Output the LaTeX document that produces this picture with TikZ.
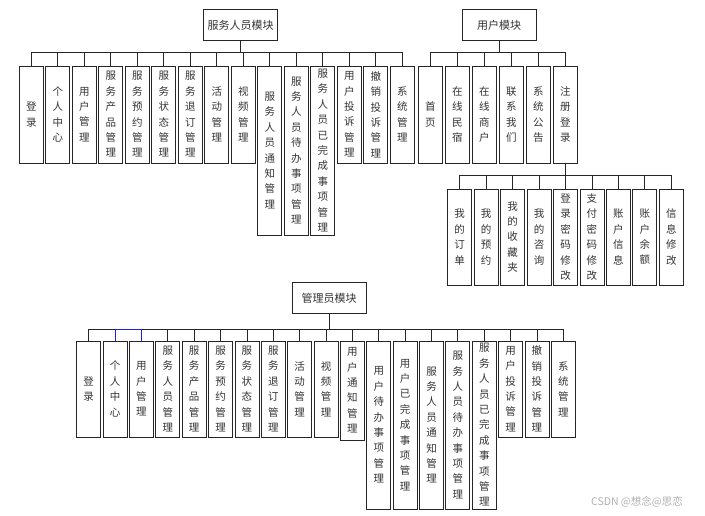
\documentclass[tikz,border=0pt]{standalone}
\usepackage{fontspec}
\setmainfont{Noto Sans CJK SC}
\usepackage{xcolor}
\usepackage{tikz}
\usetikzlibrary{positioning}
\definecolor{boxline}{HTML}{262626}
\definecolor{textgray}{HTML}{333333}
\definecolor{markgray}{HTML}{B0B0B0}
\definecolor{bluelink}{HTML}{2020E0}
\tikzset{
  box/.style  = {draw=boxline, line width=0.8pt, fill=white, text=textgray,
                 align=center, inner sep=0pt, outer sep=0pt},
  head/.style = {box, font=\fontsize{11}{13}\selectfont,
                 minimum width=74pt, minimum height=31pt},
  leaf/.style = {box, font=\fontsize{10.5}{15.4}\selectfont,
                 minimum width=24pt, minimum height=97pt},
  tall/.style = {leaf, minimum height=169pt},
  link/.style = {draw=boxline, line width=0.8pt},
}

\begin{document}
\begin{tikzpicture}[x=1pt,y=-1pt]
    \useasboundingbox (0,0) rectangle (705,516);
    % service staff module
    \node[head] (s0) at (240.5,25) {服务人员模块};
    \node[leaf, anchor=north west] (s1) at (19.3,66) {登\\录};
    \node[leaf, below right=0pt and 2.5pt of s1.north east] (s2) {个\\人\\中\\心};
    \node[leaf, below right=0pt and 2.5pt of s2.north east] (s3) {用\\户\\管\\理};
    \node[leaf, below right=0pt and 2.5pt of s3.north east] (s4) {服\\务\\产\\品\\管\\理};
    \node[leaf, below right=0pt and 2.5pt of s4.north east] (s5) {服\\务\\预\\约\\管\\理};
    \node[leaf, below right=0pt and 2.5pt of s5.north east] (s6) {服\\务\\状\\态\\管\\理};
    \node[leaf, below right=0pt and 2.5pt of s6.north east] (s7) {服\\务\\退\\订\\管\\理};
    \node[leaf, below right=0pt and 2.5pt of s7.north east] (s8) {活\\动\\管\\理};
    \node[leaf, below right=0pt and 2.5pt of s8.north east] (s9) {视\\频\\管\\理};
    \node[tall, below right=0pt and 2.5pt of s9.north east] (s10) {服\\务\\人\\员\\通\\知\\管\\理};
    \node[tall, below right=0pt and 2.5pt of s10.north east] (s11) {服\\务\\人\\员\\待\\办\\事\\项\\管\\理};
    \node[tall, below right=0pt and 2.5pt of s11.north east] (s12) {服\\务\\人\\员\\已\\完\\成\\事\\项\\管\\理};
    \node[leaf, below right=0pt and 2.5pt of s12.north east] (s13) {用\\户\\投\\诉\\管\\理};
    \node[leaf, below right=0pt and 2.5pt of s13.north east] (s14) {撤\\销\\投\\诉\\管\\理};
    \node[leaf, below right=0pt and 2.5pt of s14.north east] (s15) {系\\统\\管\\理};
    % user module
    \node[head] (u0) at (499,25) {用户模块};
    \node[leaf, anchor=north west] (u1) at (418.3,66) {首\\页};
    \node[leaf, below right=0pt and 3pt of u1.north east] (u2) {在\\线\\民\\宿};
    \node[leaf, below right=0pt and 3pt of u2.north east] (u3) {在\\线\\商\\户};
    \node[leaf, below right=0pt and 3pt of u3.north east] (u4) {联\\系\\我\\们};
    \node[leaf, below right=0pt and 3pt of u4.north east] (u5) {系\\统\\公\\告};
    \node[leaf, below right=0pt and 3pt of u5.north east] (u6) {注\\册\\登\\录};
    % under register / login
    \node[leaf, anchor=north west, minimum height=96pt] (r1) at (447.7,189) {我\\的\\订\\单};
    \node[leaf, minimum height=96pt, below right=0pt and 2.45pt of r1.north east] (r2) {我\\的\\预\\约};
    \node[leaf, minimum height=96pt, below right=0pt and 2.45pt of r2.north east] (r3) {我\\的\\收\\藏\\夹};
    \node[leaf, minimum height=96pt, below right=0pt and 2.45pt of r3.north east] (r4) {我\\的\\咨\\询};
    \node[leaf, minimum height=96pt, below right=0pt and 2.45pt of r4.north east] (r5) {登\\录\\密\\码\\修\\改};
    \node[leaf, minimum height=96pt, below right=0pt and 2.45pt of r5.north east] (r6) {支\\付\\密\\码\\修\\改};
    \node[leaf, minimum height=96pt, below right=0pt and 2.45pt of r6.north east] (r7) {账\\户\\信\\息};
    \node[leaf, minimum height=96pt, below right=0pt and 2.45pt of r7.north east] (r8) {账\\户\\余\\额};
    \node[leaf, minimum height=96pt, below right=0pt and 2.45pt of r8.north east] (r9) {信\\息\\修\\改};
    % admin module
    \node[head] (a0) at (329,298.3) {管理员模块};
    \node[leaf, anchor=north west, minimum height=96pt] (a1) at (76.7,341) {登\\录};
    \node[leaf, minimum height=96pt, below right=0pt and 2.37pt of a1.north east] (a2) {个\\人\\中\\心};
    \node[leaf, minimum height=96pt, below right=0pt and 2.37pt of a2.north east] (a3) {用\\户\\管\\理};
    \node[leaf, minimum height=96pt, below right=0pt and 2.37pt of a3.north east] (a4) {服\\务\\人\\员\\管\\理};
    \node[leaf, minimum height=96pt, below right=0pt and 2.37pt of a4.north east] (a5) {服\\务\\产\\品\\管\\理};
    \node[leaf, minimum height=96pt, below right=0pt and 2.37pt of a5.north east] (a6) {服\\务\\预\\约\\管\\理};
    \node[leaf, minimum height=96pt, below right=0pt and 2.37pt of a6.north east] (a7) {服\\务\\状\\态\\管\\理};
    \node[leaf, minimum height=96pt, below right=0pt and 2.37pt of a7.north east] (a8) {服\\务\\退\\订\\管\\理};
    \node[leaf, minimum height=96pt, below right=0pt and 2.37pt of a8.north east] (a9) {活\\动\\管\\理};
    \node[leaf, minimum height=96pt, below right=0pt and 2.37pt of a9.north east] (a10) {视\\频\\管\\理};
    \node[leaf, minimum height=99pt, below right=0pt and 2.37pt of a10.north east] (a11) {用\\户\\通\\知\\管\\理};
    \node[tall, minimum height=168pt, below right=0pt and 2.37pt of a11.north east] (a12) {用\\户\\待\\办\\事\\项\\管\\理};
    \node[tall, minimum height=168pt, below right=0pt and 2.37pt of a12.north east] (a13) {用\\户\\已\\完\\成\\事\\项\\管\\理};
    \node[tall, minimum height=168pt, below right=0pt and 2.37pt of a13.north east] (a14) {服\\务\\人\\员\\通\\知\\管\\理};
    \node[tall, minimum height=168pt, below right=0pt and 2.37pt of a14.north east] (a15) {服\\务\\人\\员\\待\\办\\事\\项\\管\\理};
    \node[tall, minimum height=168pt, below right=0pt and 2.37pt of a15.north east] (a16) {服\\务\\人\\员\\已\\完\\成\\事\\项\\管\\理};
    \node[leaf, minimum height=96pt, below right=0pt and 2.37pt of a16.north east] (a17) {用\\户\\投\\诉\\管\\理};
    \node[leaf, minimum height=96pt, below right=0pt and 2.37pt of a17.north east] (a18) {撤\\销\\投\\诉\\管\\理};
    \node[leaf, minimum height=96pt, below right=0pt and 2.37pt of a18.north east] (a19) {系\\统\\管\\理};

    \foreach \c in {s1,s2,s3,s4,s5,s6,s7,s8,s9,s10,s11,s12,s13,s14,s15}
      \draw[link] (s0.south) -- ++(0,12) -| (\c.north);
    \foreach \c in {u1,u2,u3,u4,u5,u6}
      \draw[link] (u0.south) -- ++(0,12.3) -| (\c.north);
    \foreach \c in {r1,r2,r3,r4,r5,r6,r7,r8,r9}
      \draw[link] (u6.south) -- ++(0,12) -| (\c.north);
    \foreach \c in {a1,a4,a5,a6,a7,a8,a9,a10,a11,a12,a13,a14,a15,a16,a17,a18,a19}
      \draw[link] (a0.south) -- ++(0,15.3) -| (\c.north);
    \draw[link, draw=bluelink] (a2.north) -- ++(0,-11.7) -| (a3.north);

    \node[text=markgray, font=\fontsize{10.5}{12}\selectfont] (wm) at (637,502) {CSDN @想念@思恋};
  \end{tikzpicture}
\end{document}
